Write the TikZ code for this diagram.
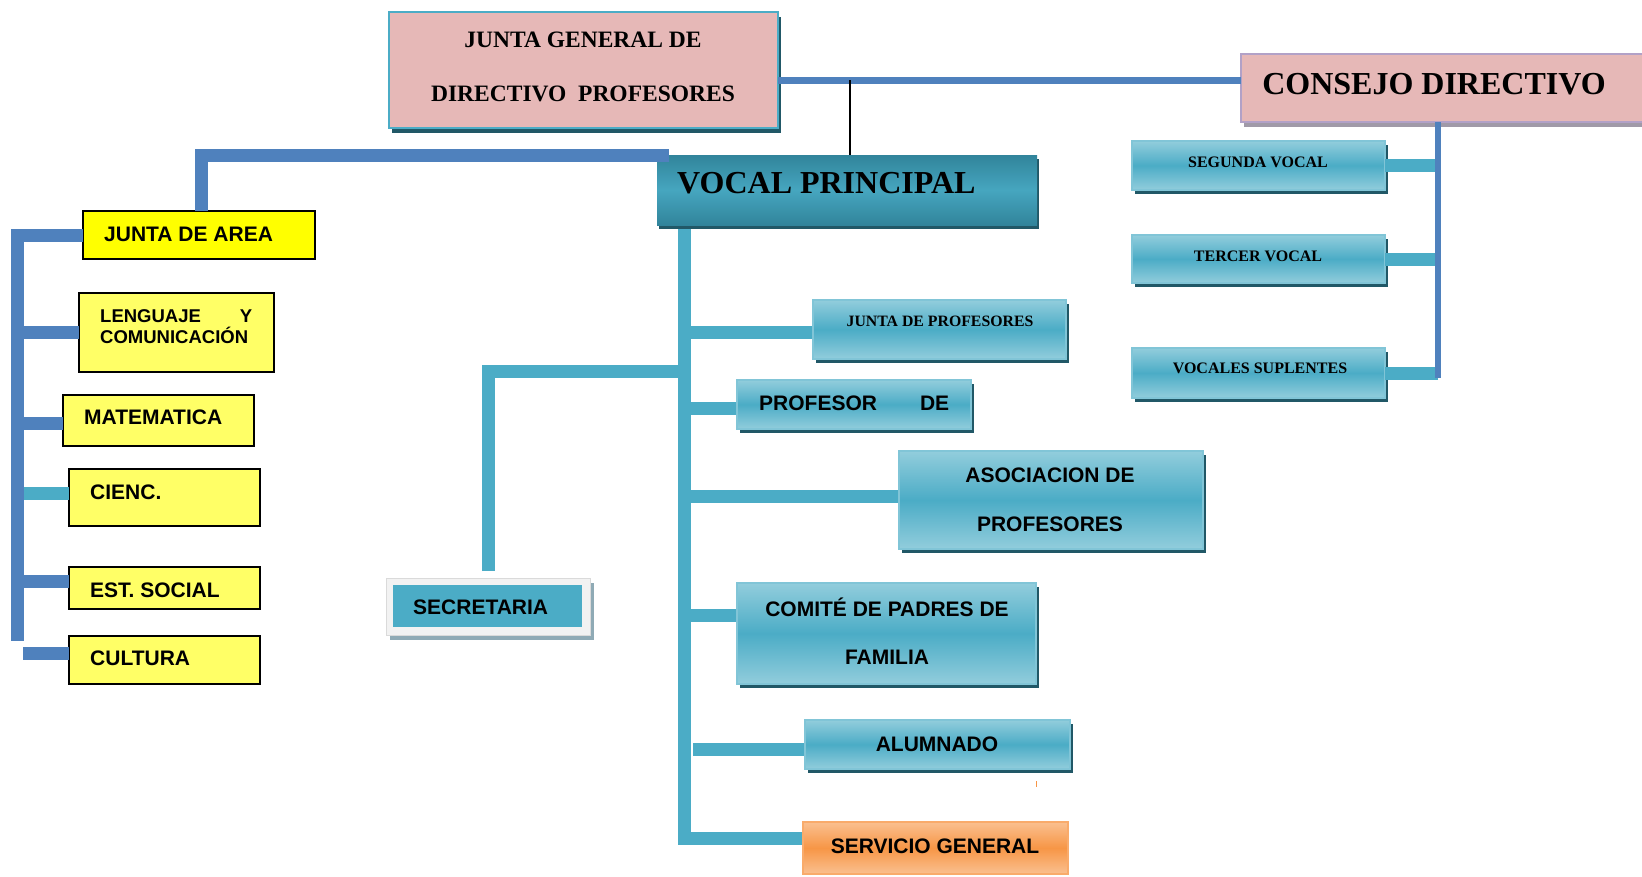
\documentclass[tikz,border=0pt]{standalone}
\usepackage{fontspec}
\setmainfont{Liberation Serif}
\newfontfamily\arialf{Liberation Sans}
\newfontfamily\timesf{Liberation Serif}
\usetikzlibrary{shadows,calc}
\pgfdeclarelayer{background}
\pgfsetlayers{background,main}
\definecolor{pinkfill}{HTML}{E6B8B7}
\definecolor{tealc}{HTML}{4BACC6}
\definecolor{tealdark}{HTML}{31849B}
\definecolor{tealmid}{HTML}{46A6BF}
\definecolor{teallight}{HTML}{92CDDC}
\definecolor{tealshadow}{HTML}{215867}
\definecolor{bluec}{HTML}{4F81BD}
\definecolor{lilac}{HTML}{B2A1C7}
\definecolor{grayshadow}{HTML}{A09AA8}
\definecolor{yel}{HTML}{FFFF00}
\definecolor{yellight}{HTML}{FFFF66}
\definecolor{orangec}{HTML}{F79646}
\definecolor{orangelight}{HTML}{FAC090}
\definecolor{secframe}{HTML}{F2F2F2}
\definecolor{secshadow}{HTML}{8FAAB5}
\begin{document}
\begin{tikzpicture}[x=1pt,y=-1pt,
  box/.style={rectangle, anchor=north west, inner sep=0pt, outer sep=0pt},
  pinkbox/.style={box, fill=pinkfill, line width=2pt},
  bluebox/.style={box, draw=tealc!70!white, line width=1.5pt, top color=teallight, bottom color=teallight, middle color=tealc, general shadow={fill=tealshadow, shadow xshift=3pt, shadow yshift=-4pt}},
  yelbox/.style={box, draw=black, line width=1.3pt, fill=yellight},
  tline/.style={draw=tealc, line width=13pt},
  bline/.style={draw=bluec, line width=13pt},
  thinb/.style={draw=bluec, line width=6.5pt},
  ta/.style={inner sep=0pt, font=\arialf\bfseries\fontsize{21}{25}\selectfont},
  tt/.style={inner sep=0pt, font=\timesf\bfseries\fontsize{16}{19}\selectfont},
]
\begin{pgfonlayer}{background}
\fill[white] (0,0) rectangle (1642,876);
\end{pgfonlayer}
\useasboundingbox (0,0) rectangle (1642,876);

% ---------- boxes ----------
\node[pinkbox, draw=tealc, minimum width=389pt, minimum height=116pt,
  general shadow={fill=tealshadow, shadow xshift=3pt, shadow yshift=-5pt}] (jg) at (389,12) {};
\node[pinkbox, draw=lilac, minimum width=412pt, minimum height=68pt,
  general shadow={fill=grayshadow, shadow xshift=3pt, shadow yshift=-5pt}] (cd) at (1241,54) {};
\node[box, top color=tealdark, bottom color=tealdark, middle color=tealmid,
  minimum width=380pt, minimum height=70pt,
  general shadow={fill=tealshadow, shadow xshift=2pt, shadow yshift=-4pt}] (vp) at (657,155) {};

\node[bluebox, minimum width=253pt, minimum height=49pt] (sv) at (1132,141) {};
\node[bluebox, minimum width=253pt, minimum height=48pt] (tv) at (1132,235) {};
\node[bluebox, minimum width=253pt, minimum height=50pt] (vs) at (1132,348) {};

\node[bluebox, minimum width=253pt, minimum height=59pt] (jp) at (813,300) {};
\node[bluebox, minimum width=234pt, minimum height=49pt] (pd) at (737,380) {};
\node[bluebox, minimum width=304pt, minimum height=98pt] (ap) at (899,451) {};
\node[bluebox, minimum width=299pt, minimum height=101pt] (cp) at (737,583) {};
\node[bluebox, minimum width=265pt, minimum height=49pt] (al) at (805,720) {};
\node[box, draw=orangec!80!white, line width=1.5pt, top color=orangelight, bottom color=orangelight, middle color=orangec,
  minimum width=265pt, minimum height=52pt] (sg) at (803,822) {};

\node[box, fill=secframe, draw=secframe!90!black, line width=0.5pt, minimum width=204pt, minimum height=57pt,
  general shadow={fill=secshadow, shadow xshift=4pt, shadow yshift=-5pt}] (se) at (386,578) {};
\node[box, fill=tealc, minimum width=189pt, minimum height=42pt] (sei) at (393,585) {};

\node[yelbox, fill=yel, minimum width=232pt, minimum height=48pt] (ja) at (83,211) {};
\node[yelbox, minimum width=195pt, minimum height=79pt] (lc) at (79,293) {};
\node[yelbox, minimum width=191pt, minimum height=51pt] (ma) at (63,395) {};
\node[yelbox, minimum width=191pt, minimum height=57pt] (ci) at (69,469) {};
\node[yelbox, minimum width=191pt, minimum height=42pt] (es) at (69,567) {};
\node[yelbox, minimum width=191pt, minimum height=48pt] (cu) at (69,636) {};

% ---------- connectors ----------
\coordinate (y80) at (0,80);
\draw[thinb, line width=7pt] (jg.east |- y80) -- (cd.west |- y80);
\coordinate (bx) at (850,80);
\draw[black, line width=1.5pt] (bx) -- (bx |- vp.north);

\coordinate (cdv) at (1438,378);
\draw[tline] (sv.east) -- (sv.east -| cdv);
\draw[tline] (tv.east) -- (tv.east -| cdv);
\draw[tline] (vs.east) -- (vs.east -| cdv);
\draw[thinb] (cd.south -| cdv) -- (cdv);

\coordinate (jt) at (201,155);
\draw[bline] (ja.north -| jt) -- (jt) -- ($(vp.north west)+(12,0)$);

\coordinate (lv) at (17.5,641);
\draw[bline] (ja.west) -- (ja.west -| lv) -- (lv);
\coordinate (l1) at (17.5,332.5);
\coordinate (l2) at (17.5,423);
\coordinate (l3) at (24,493.5);
\coordinate (l4) at (17.5,581);
\coordinate (l5) at (23,653.5);
\draw[bline] (l1) -- (l1 -| lc.west);
\draw[bline] (l2) -- (l2 -| ma.west);
\draw[tline] (l3) -- (l3 -| ci.west);
\draw[bline] (l4) -- (l4 -| es.west);
\draw[bline] (l5) -- (l5 -| cu.west);

\begin{pgfonlayer}{background}
\coordinate (mv) at (684,838);
\draw[tline] (vp.south -| mv) -- (mv) -- (mv -| sg.west);
\coordinate (m1) at (684,332);
\coordinate (m2) at (684,408);
\coordinate (m3) at (684,496);
\coordinate (m4) at (684,615.5);
\coordinate (m5) at (693,749.5);
\draw[tline] (m1) -- (m1 -| jp.west);
\draw[tline] (m2) -- (m2 -| pd.west);
\draw[tline] (m3) -- (m3 -| ap.west);
\draw[tline] (m4) -- (m4 -| cp.west);
\draw[tline] (m5) -- (m5 -| al.west);
\coordinate (sc) at (488,371.5);
\draw[tline] ($(se.north -| sc)+(0,-7)$) -- (sc) -- (sc -| mv);
\end{pgfonlayer}

\draw[orangec, line width=1pt] (1036,781) -- (1036,787);

% ---------- texts ----------
\node[tt, font=\timesf\bfseries\fontsize{23.5}{54}\selectfont, align=center] (jgt) at (583,67) {JUNTA GENERAL DE\\DIRECTIVO\ \ PROFESORES};
\node[tt, font=\timesf\bfseries\fontsize{32}{38}\selectfont] (cdt) at (1434,84) {CONSEJO DIRECTIVO};
\node[tt, font=\timesf\bfseries\fontsize{32}{38}\selectfont, anchor=west] (vpt) at (677,183) {VOCAL PRINCIPAL};
\node[tt] (svt) at (1258,162) {SEGUNDA VOCAL};
\node[tt] (tvt) at (1258,256) {TERCER VOCAL};
\node[tt] (vst) at (1260,368) {VOCALES SUPLENTES};
\node[tt, font=\timesf\bfseries\fontsize{15.8}{19}\selectfont] (jpt) at (940,321) {JUNTA DE PROFESORES};

\node[ta, anchor=west] (jat) at (104,234) {JUNTA DE AREA};
\node[ta, font=\arialf\bfseries\fontsize{18.5}{21.5}\selectfont, anchor=west, align=left] (lct) at (100,326.5) {\makebox[152pt][s]{LENGUAJE\hfill Y}\\COMUNICACIÓN};
\node[ta, anchor=west] (mat) at (84,417) {MATEMATICA};
\node[ta, anchor=west] (cit) at (90,492) {CIENC.};
\node[ta, anchor=west] (est) at (90,590) {EST. SOCIAL};
\node[ta, anchor=west] (cut) at (90,658) {CULTURA};
\node[ta, anchor=west] (set) at (413,607) {SECRETARIA};

\node[ta, anchor=west] (pdt) at (759,403) {\makebox[190pt][s]{PROFESOR\hfill DE}};
\node[ta, font=\arialf\bfseries\fontsize{21}{49}\selectfont, align=center] (apt) at (1050,500) {ASOCIACION DE\\PROFESORES};
\node[ta, font=\arialf\bfseries\fontsize{21}{48}\selectfont, align=center] (cpt) at (887,631) {COMITÉ DE PADRES DE\\FAMILIA};
\node[ta] (alt) at (937,744) {ALUMNADO};
\node[ta] (sgt) at (935,846) {SERVICIO GENERAL};
\end{tikzpicture}
\end{document}
